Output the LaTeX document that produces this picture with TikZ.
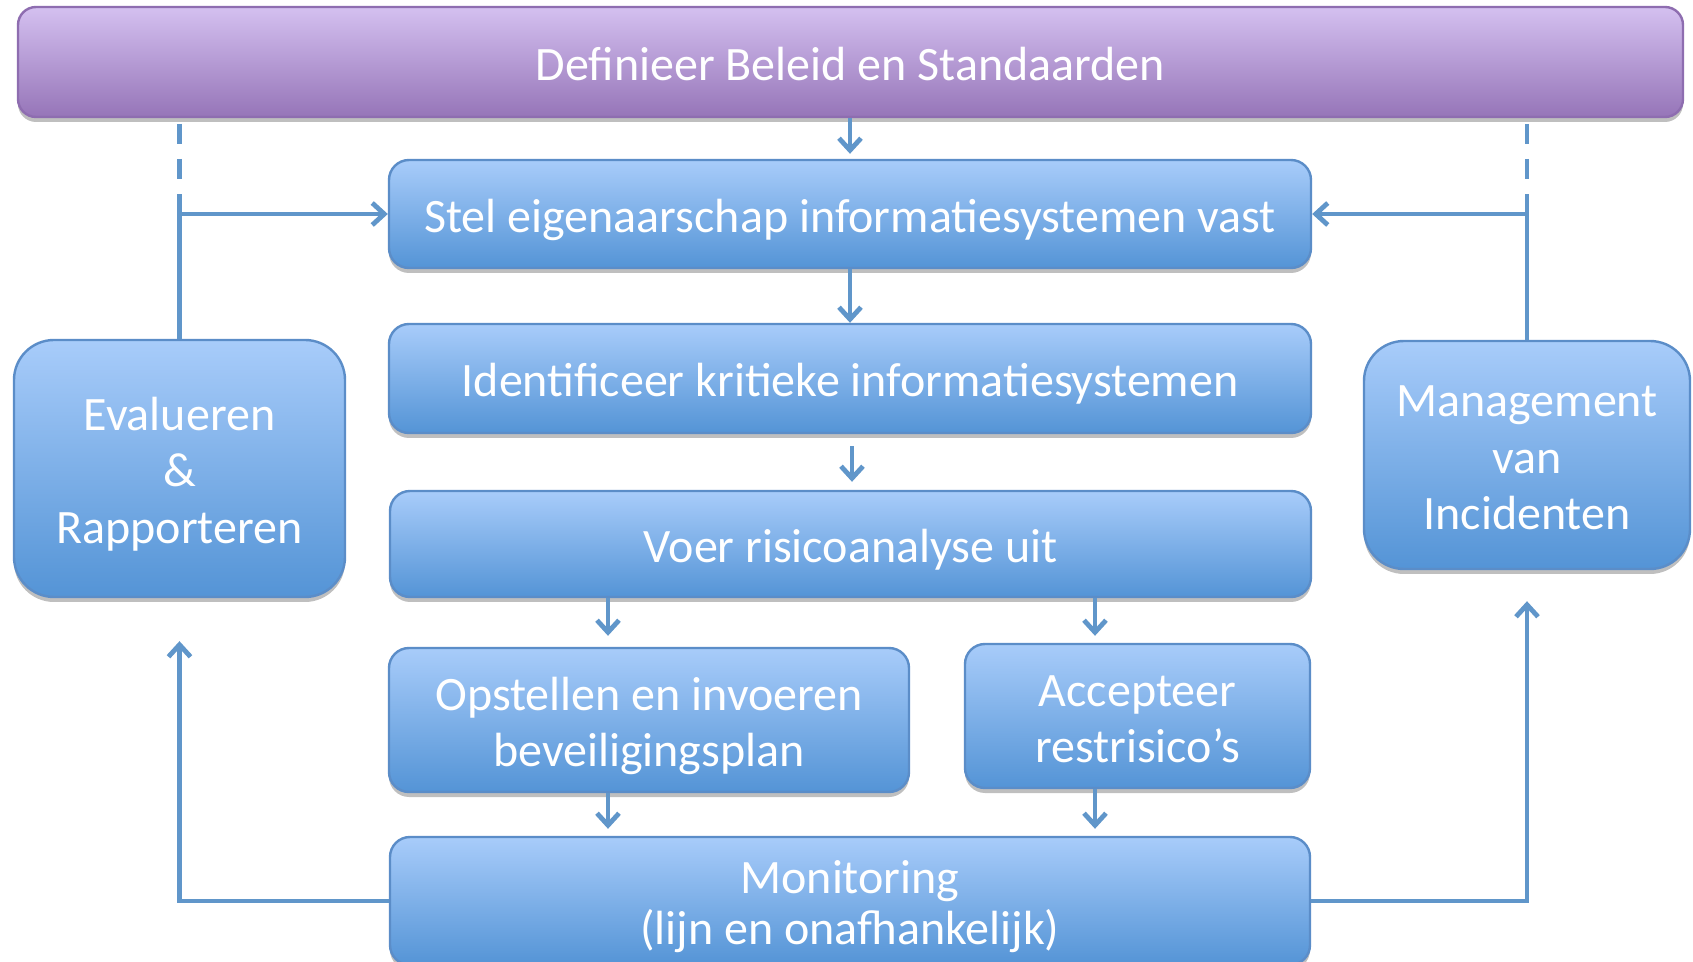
\documentclass[tikz,border=0pt]{standalone}
\usepackage{fontspec}
\setmainfont{Carlito}
\usetikzlibrary{arrows.meta,shadows}
\definecolor{bluetop}{HTML}{A8CCFA}
\definecolor{bluebot}{HTML}{5494D6}
\definecolor{blueborder}{HTML}{5B8DC8}
\definecolor{purptop}{HTML}{D4C0F0}
\definecolor{purpbot}{HTML}{9675B8}
\definecolor{purpborder}{HTML}{8E6DB0}
\definecolor{lineblue}{HTML}{6096CA}
\newcommand\firstln{\rule{0pt}{1.05em}}
\tikzset{
  boxbase/.style={line width=1.2pt, text=white, align=center, inner sep=0pt,
    font=\fontsize{24}{28.25}\selectfont,
    execute at begin node={\rule{0pt}{1.05em}},
    execute at end node={\rule[-0.28em]{0pt}{0.28em}},
    drop shadow={shadow xshift=0pt, shadow yshift=-2.5pt, opacity=0.25, fill=black}},
  bluebox/.style={boxbase, draw=blueborder, top color=bluetop, bottom color=bluebot, rounded corners=10pt},
  sidebox/.style={bluebox, rounded corners=20pt},
  purpbox/.style={boxbase, draw=purpborder, top color=purptop, bottom color=purpbot, rounded corners=9pt},
  conn/.style={draw=lineblue, line width=2.4pt},
  arr/.style={conn, -{Straight Barb[length=6pt,width=11pt]}},
  dashline/.style={conn, dash pattern=on 10pt off 7.5pt}
}
\begin{document}
\begin{tikzpicture}[x=0.5pt,y=-0.5pt]
\useasboundingbox (0,0) rectangle (1693,962);
\clip (0,0) rectangle (1693,962);
\fill[white] (0,0) rectangle (1693,962);

\node[purpbox, minimum width=832.5pt, minimum height=55pt] (top) at (850.5,62) {Definieer Beleid en Standaarden};
\node[bluebox, minimum width=461pt, minimum height=54pt] (stel) at (850,214) {Stel eigenaarschap informatiesystemen vast};
\node[bluebox, minimum width=461pt, minimum height=54.5pt] (ident) at (850,378.5) {Identificeer kritieke informatiesystemen};
\node[bluebox, minimum width=460.5pt, minimum height=53pt] (voer) at (850.5,544) {Voer risicoanalyse uit};
\node[bluebox, minimum width=260pt, minimum height=72pt] (opst) at (649,720) {\firstln Opstellen en invoeren\\beveiligingsplan};
\node[bluebox, minimum width=172.5pt, minimum height=72pt] (acc) at (1137.5,716) {\firstln Accepteer\\restrisico’s};
\node[bluebox, minimum width=460pt, minimum height=64pt, font=\fontsize{24}{25.5}\selectfont] (mon) at (850,901) {\firstln Monitoring\\(lijn en onafhankelijk)};
\node[sidebox, minimum width=165.5pt, minimum height=128.5pt] (eval) at (179.5,468.5) {\firstln Evalueren\\\&\\Rapporteren};
\node[sidebox, minimum width=163pt, minimum height=114pt] (mgmt) at (1527,455) {\firstln Management\\van\\Incidenten};

\coordinate (colL) at (608,0);
\coordinate (colR) at (1095,0);
\coordinate (dashTop) at (0,124);
\coordinate (dashBot) at (0,194);
\coordinate (evaltip) at ([yshift=-21.5pt]eval.south);
\coordinate (mgmttip) at ([yshift=-15.5pt]mgmt.south);

% central flow
\draw[arr, shorten >=2.5pt] (stel.north |- top.south) -- (stel.north);
\draw[arr] (stel.south) -- (ident.north);
\draw[arr, shorten <=6pt, shorten >=4pt] ([xshift=1pt]ident.south) -- ([xshift=0.75pt]voer.north);
\draw[arr, shorten >=5.5pt] (voer.south -| colL) -- (opst.north -| colL);
\draw[arr, shorten >=3.5pt] (opst.south -| colL) -- (mon.north -| colL);
\draw[arr, shorten >=3.5pt] (voer.south -| colR) -- (acc.north -| colR);
\draw[arr, shorten >=3.5pt] (acc.south -| colR) -- (mon.north -| colR);

% feedback loops
\draw[arr] (mon.west) -| (evaltip);
\draw[arr] (mon.east) -| (mgmttip);
\draw[conn] (eval.north) -- (eval.north |- dashBot);
\draw[dashline] (eval.north |- dashTop) -- (eval.north |- dashBot);
\draw[arr] (eval.north |- stel.west) -- (stel.west);
\draw[conn] (mgmt.north) -- (mgmt.north |- dashBot);
\draw[dashline] (mgmt.north |- dashTop) -- (mgmt.north |- dashBot);
\draw[arr] (mgmt.north |- stel.east) -- (stel.east);
\end{tikzpicture}
\end{document}
